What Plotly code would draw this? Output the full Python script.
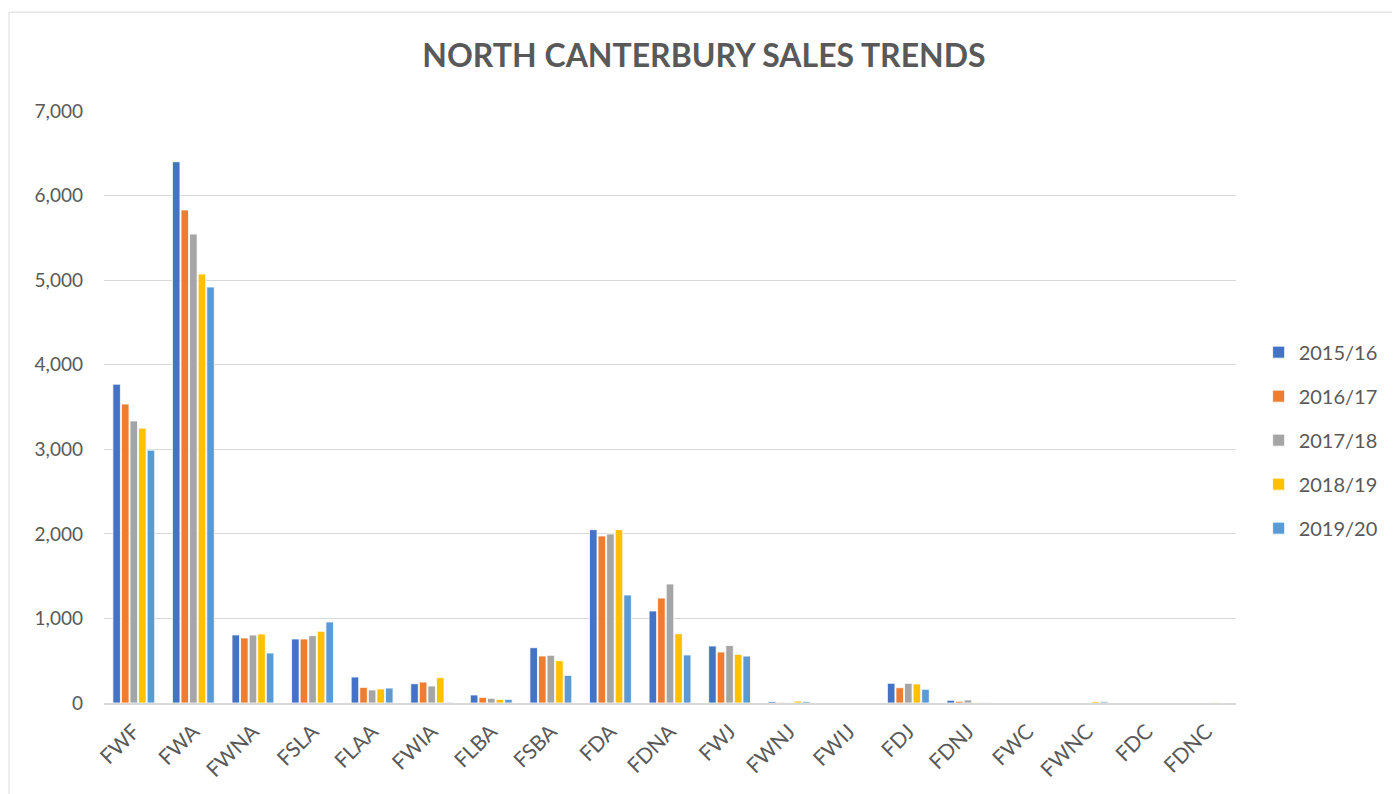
import plotly.graph_objects as go

categories = ['FWF', 'FWA', 'FWNA', 'FSLA', 'FLAA', 'FWIA', 'FLBA', 'FSBA', 'FDA', 'FDNA',
              'FWJ', 'FWNJ', 'FWIJ', 'FDJ', 'FDNJ', 'FWC', 'FWNC', 'FDC', 'FDNC']

y2015 = [3770, 6400, 805, 757, 307, 228, 95, 654, 2050, 1088, 674, 17, 0, 233, 32, 0, 0, 0, 0]
y2016 = [3535, 5830, 769, 757, 185, 248, 67, 556, 1975, 1241, 603, 8, 0, 181, 20, 0, 0, 0, 0]
y2017 = [3335, 5545, 804, 796, 154, 201, 55, 564, 1998, 1407, 680, 5, 0, 233, 36, 0, 0, 0, 0]
y2018 = [3250, 5073, 816, 848, 166, 299, 43, 500, 2050, 819, 575, 22, 0, 225, 5, 0, 17, 0, 5]
y2019 = [2990, 4919, 591, 958, 177, 8, 43, 327, 1277, 568, 555, 17, 0, 162, 4, 0, 15, 0, 0]

series = [
    ('2015/16', y2015, '#4472C4'),
    ('2016/17', y2016, '#ED7D31'),
    ('2017/18', y2017, '#A5A5A5'),
    ('2018/19', y2018, '#FFC000'),
    ('2019/20', y2019, '#5B9BD5'),
]

FONT = 'Lato'
GREY = '#595959'

fig = go.Figure()

for name, vals, color in series:
    fig.add_trace(go.Bar(
        x=categories,
        y=vals,
        name=name,
        legendgroup=name,
        marker=dict(color=color, line=dict(color='white', width=0.8)),
    ))

# outer chart border
fig.add_shape(type='rect', xref='paper', yref='paper',
              x0=-0.0839, x1=1.2, y0=-0.2, y1=1.167,
              line=dict(color='#d9d9d9', width=1), layer='below')

# page body has an 8px margin, so the figure is a bit smaller than the window
fig.update_layout(
    width=1392, height=786,
    margin=dict(l=96, r=164, t=103, b=91),
    paper_bgcolor='white', plot_bgcolor='white',
    title=dict(text='<b>NORTH CANTERBURY SALES TRENDS</b>',
               x=0.5, xanchor='center', y=0.939, yanchor='middle',
               font=dict(family=FONT, size=32, color=GREY)),
    barmode='group', bargap=0.28, bargroupgap=0.12,
    font=dict(family=FONT, color=GREY, size=19),
    legend=dict(x=1.02, xanchor='left', y=0.444, yanchor='middle',
                font=dict(family=FONT, size=20, color=GREY),
                traceorder='grouped', tracegroupgap=15,
                itemwidth=30),
    xaxis=dict(tickangle=-45, tickfont=dict(size=21, color=GREY),
               showline=True, linecolor='#d9d9d9', linewidth=2,
               ticks='', ticklabelstandoff=6),
    yaxis=dict(range=[0, 7000], dtick=1000, tickformat=',',
               showgrid=True, gridcolor='#d9d9d9', gridwidth=1.3,
               zeroline=False, tickfont=dict(size=19, color=GREY),
               ticklabelstandoff=20),
)

fig.write_html('out.html')
